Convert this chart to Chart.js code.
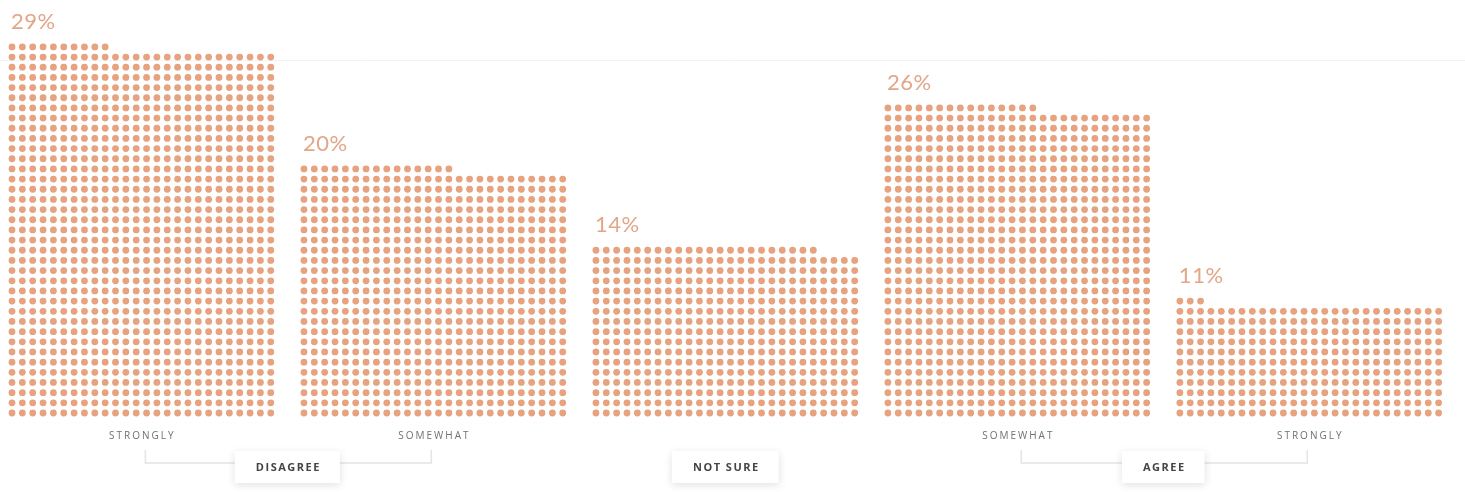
<!DOCTYPE html>
<html>
<head>
<meta charset="utf-8">
<script src="https://cdn.jsdelivr.net/npm/chart.js@4.4.1/dist/chart.umd.min.js"></script>
<style>
	html, body { margin: 0; padding: 0; background: #ffffff; }
	#wrap { width: 1465px; height: 492px; position: relative; }
</style>
</head>
<body>
<div id="wrap"><canvas id="dotChart"></canvas></div>
<script>
"use strict";

// data
const categories = ["STRONGLY", "SOMEWHAT", "NOT SURE", "SOMEWHAT", "STRONGLY"];
const groups = ["DISAGREE", "DISAGREE", "NOT SURE", "AGREE", "AGREE"];
const percents = [29, 20, 14, 26, 11];
const dotCounts = [946, 639, 438, 795, 289];
const dotsPerRow = 26;

const barPitch = 28.21; // in dot columns
const dotColor = "#e7a27f";
const labelColor = "#e2a689";

const points = [];
categories.forEach((cat, i) => {
	for (let k = 0; k < dotCounts[i]; k++) {
		points.push({ x: i * barPitch + (k % dotsPerRow), y: Math.floor(k / dotsPerRow) });
	}
});

const topRow = (i) => Math.floor((dotCounts[i] - 1) / dotsPerRow);

const labelPlugin = {
	id: "labelPlugin",
	beforeDatasetsDraw(chart) {
		const ctx = chart.ctx;
		ctx.save();
		ctx.strokeStyle = "#f3f3f3";
		ctx.lineWidth = 1;
		ctx.beginPath();
		ctx.moveTo(0, 60.5);
		ctx.lineTo(chart.width, 60.5);
		ctx.stroke();
		ctx.restore();
	},
	afterDatasetsDraw(chart) {
		const ctx = chart.ctx;
		const xs = chart.scales.x;
		const ys = chart.scales.y;
		const center = (i) => xs.getPixelForValue(i * barPitch + (dotsPerRow - 1) / 2);
		ctx.save();

		// percent labels
		ctx.font = "400 22px Lato";
		ctx.letterSpacing = "0.5px";
		ctx.fillStyle = labelColor;
		ctx.textAlign = "left";
		ctx.textBaseline = "middle";
		percents.forEach((p, i) => {
			const x = xs.getPixelForValue(i * barPitch) - 1;
			const y = ys.getPixelForValue(topRow(i)) - 25;
			ctx.fillText(p + "%", x, y);
		});

		// sub labels under bars
		ctx.font = "400 10px 'Open Sans'";
		ctx.letterSpacing = "2px";
		ctx.fillStyle = "#707070";
		ctx.textAlign = "center";
		categories.forEach((cat, i) => {
			if (groups[i] === cat) return;
			ctx.fillText(cat, center(i) + 1, 436);
		});

		// group brackets
		const groupNames = [];
		groups.forEach((g) => { if (!groupNames.includes(g)) groupNames.push(g); });
		groupNames.forEach((g) => {
			const idx = [];
			groups.forEach((gg, i) => { if (gg === g) idx.push(i); });
			const x0 = center(idx[0]);
			const x1 = center(idx[idx.length - 1]);
			if (idx.length > 1) {
				ctx.strokeStyle = "#e4e4e4";
				ctx.lineWidth = 1.5;
				ctx.beginPath();
				ctx.moveTo(x0 + 4, 450);
				ctx.lineTo(x0 + 4, 463);
				ctx.lineTo(x1 - 2, 463);
				ctx.lineTo(x1 - 2, 450);
				ctx.stroke();
			}
			const mid = (x0 + x1) / 2;
			ctx.font = "700 11px 'Open Sans'";
			ctx.letterSpacing = "1.5px";
			const w = ctx.measureText(g).width + 40;
			ctx.save();
			ctx.shadowColor = "rgba(0,0,0,0.12)";
			ctx.shadowBlur = 8;
			ctx.shadowOffsetY = 2;
			ctx.fillStyle = "#ffffff";
			ctx.fillRect(mid - w / 2, 451, w, 32);
			ctx.restore();
			ctx.fillStyle = "#444444";
			ctx.textAlign = "center";
			ctx.fillText(g, mid + 1, 468);
		});
		ctx.restore();
	},
};

const ctx = document.getElementById("dotChart").getContext("2d");
const dotChart = new Chart(ctx, {
	type: "scatter",
	data: {
		datasets: [
			{
				label: "Dots",
				data: points,
				pointRadius: 3.4,
				pointHoverRadius: 3.4,
				pointBorderWidth: 0,
				backgroundColor: dotColor,
				borderColor: dotColor,
			},
		],
	},
	options: {
		responsive: true,
		maintainAspectRatio: false,
		animation: false,
		events: [],
		layout: { padding: 0, autoPadding: false },
		plugins: {
			legend: { display: false },
			tooltip: { enabled: false },
		},
		scales: {
			x: { type: "linear", display: false, min: -1.16, max: 140.39 },
			y: { type: "linear", display: false, min: -7.77, max: 40.61 },
		},
	},
	plugins: [labelPlugin],
});
</script>
</body>
</html>
